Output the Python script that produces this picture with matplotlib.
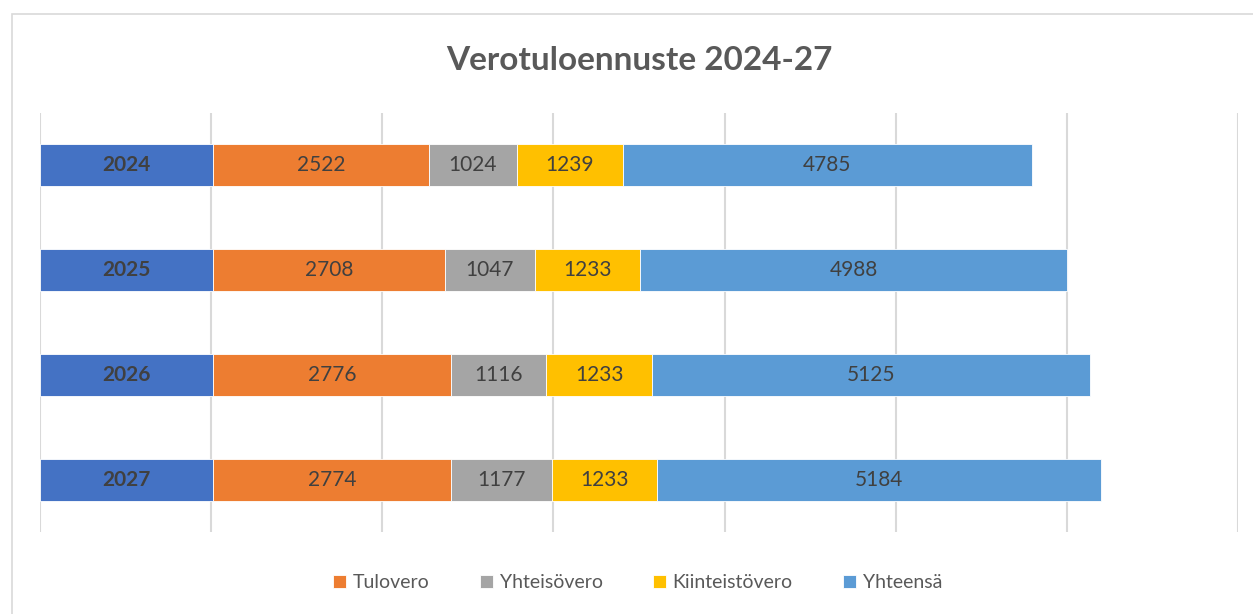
import matplotlib
matplotlib.use("Agg")
import matplotlib.pyplot as plt
from matplotlib.patches import Rectangle
import numpy as np

years = [2024, 2025, 2026, 2027]
tulovero = [2522, 2708, 2776, 2774]
yhteisovero = [1024, 1047, 1116, 1177]
kiinteistovero = [1239, 1233, 1233, 1233]
yhteensa = [4785, 4988, 5125, 5184]
series_names = ["Tulovero", "Yhteisövero", "Kiinteistövero", "Yhteensä"]
title = "Verotuloennuste 2024-27"

colors = ["#4472C4", "#ED7D31", "#A5A5A5", "#FFC000", "#5B9BD5"]

plt.rcParams['font.family'] = ['Lato', 'DejaVu Sans']

W, H = 1253, 614
fig = plt.figure(figsize=(W / 100, H / 100), dpi=100)
fig.patch.set_facecolor("white")

# chart border
fig.patches.append(Rectangle((11.5 / W, -0.1), 1.2, 1 - 14 / H + 0.1,
                             transform=fig.transFigure, fill=False,
                             edgecolor="#D9D9D9", linewidth=1.2))

ax = fig.add_axes([40 / W, 1 - 532 / H, (1238 - 40) / W, (532 - 113) / H])

data = [years, tulovero, yhteisovero, kiinteistovero, yhteensa]
ypos = np.arange(len(years))
left = np.zeros(len(years))
bars_handles = []
for i, vals in enumerate(data):
    vals = np.array(vals, dtype=float)
    b = ax.barh(ypos, vals, left=left, height=0.4, color=colors[i],
                edgecolor="white", linewidth=0.6, zorder=3)
    bars_handles.append(b)
    for y, l, v in zip(ypos, left, vals):
        ax.text(l + v / 2, y, f"{int(v)}", ha="center", va="center",
                fontsize=15, color="#404040",
                fontweight="bold" if i == 0 else "normal", zorder=4)
    left += vals

ax.set_xlim(0, 14000)
ax.set_ylim(3.5, -0.5)
ax.set_xticks(np.arange(0, 14001, 2000))
ax.grid(axis="x", color="#D9D9D9", linewidth=1.5, zorder=0)
ax.tick_params(left=False, bottom=False, labelleft=False, labelbottom=False)
for s in ax.spines.values():
    s.set_visible(False)

fig.text(0.51, 1 - 60 / H, title, ha="center", va="center",
         fontsize=24, fontweight="bold", color="#595959")

leg = fig.legend(bars_handles[1:], series_names, loc="center",
                 bbox_to_anchor=(0.509, 1 - 583 / H), ncol=4, frameon=False,
                 fontsize=14, handlelength=0.65, handleheight=0.65,
                 handletextpad=0.35, columnspacing=2.6)
for t in leg.get_texts():
    t.set_color("#595959")

fig.savefig("out.png", dpi=100)
